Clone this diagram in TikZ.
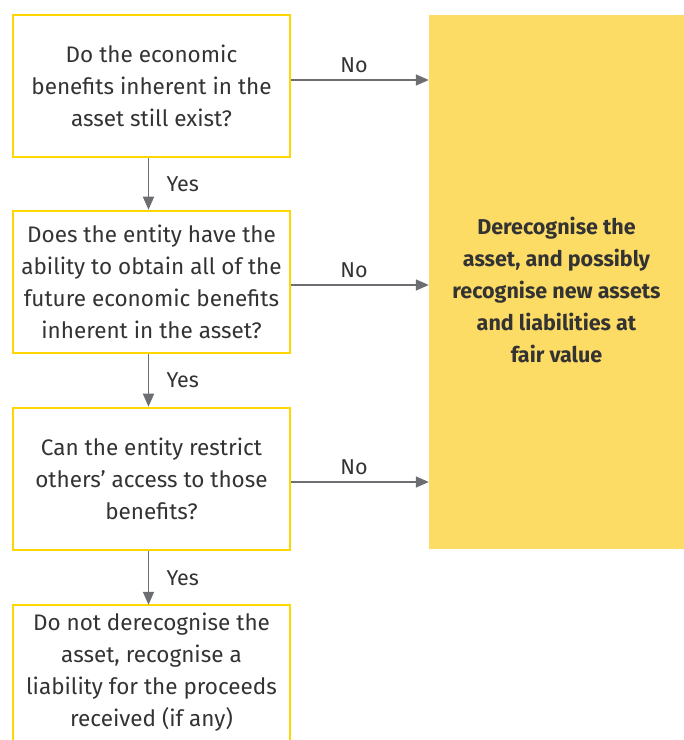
\documentclass[tikz,border=0pt]{standalone}
\usepackage{fontspec}
\setmainfont{Fira Sans}
\usetikzlibrary{arrows.meta}
\usetikzlibrary{positioning}

\definecolor{eyline}{HTML}{FFD700}
\definecolor{eyfill}{HTML}{FDDC66}
\definecolor{eyarrow}{HTML}{6D6E71}
\definecolor{eytext}{HTML}{333333}

\begin{document}
\begin{tikzpicture}[x=1pt,y=1pt,
	qnode/.style={draw=eyline,line width=2.5pt,minimum width=277pt,minimum height=142pt,align=center,text=eytext,font=\fontsize{22.5}{32}\selectfont},
	onode/.style={minimum width=277pt,minimum height=135pt,align=center,text=eytext,font=\fontsize{22.5}{32}\selectfont},
	rnode/.style={fill=eyfill,minimum width=255pt,minimum height=534pt},
	rtext/.style={align=center,text=eytext,font=\fontsize{21.5}{32}\selectfont\bfseries},
	arr/.style={draw=eyarrow,line width=1.5pt,-{Triangle[length=13pt,width=11pt]}},
	lbl/.style={text=eytext,font=\fontsize{21.5}{24}\selectfont}]
	\useasboundingbox (0,0) rectangle (684,740);
	
	\node[qnode] (q1) at (151.5,654) {Do the economic\\benefits inherent in the\\asset still exist?};
	\node[qnode] (q2) at (151.5,458) {Does the entity have the\\ability to obtain all of the\\future economic benefits\\inherent in the asset?};
	\node[qnode] (q3) at (151.5,261) {Can the entity restrict\\others' access to those\\benefits?};
	\node[onode] (q4) at (151.5,67.5) {Do not derecognise the\\asset, recognise a\\liability for the proceeds\\received (if any)};
	\draw[draw=eyline,line width=2.5pt] (q4.south west) |- (q4.north east) -- (q4.south east);
	
	\node[rnode] (res) at (556.5,458) {};
	\node[rtext] (restext) at ([yshift=-8pt]res.center) {Derecognise the\\asset, and possibly\\recognise new assets\\and liabilities at\\fair value};
	
	\draw[arr] ([xshift=-3pt]q1.south) -- node[lbl,right=14pt] {Yes} ([xshift=-3pt]q2.north);
	\draw[arr] ([xshift=-3pt]q2.south) -- node[lbl,right=14pt] {Yes} ([xshift=-3pt]q3.north);
	\draw[arr] ([xshift=-3pt]q3.south) -- node[lbl,right=14pt] {Yes} ([xshift=-3pt]q4.north);
	
	\draw[arr] ([yshift=6pt]q1.east) -- node[lbl,above=3pt,xshift=-6pt] {No} ([yshift=6pt]q1.east -| res.west);
	\draw[arr] ([yshift=-3pt]q2.east) -- node[lbl,above=3pt,xshift=-6pt] {No} ([yshift=-3pt]q2.east -| res.west);
	\draw[arr] ([yshift=-3pt]q3.east) -- node[lbl,above=3pt,xshift=-6pt] {No} ([yshift=-3pt]q3.east -| res.west);
\end{tikzpicture}
\end{document}
